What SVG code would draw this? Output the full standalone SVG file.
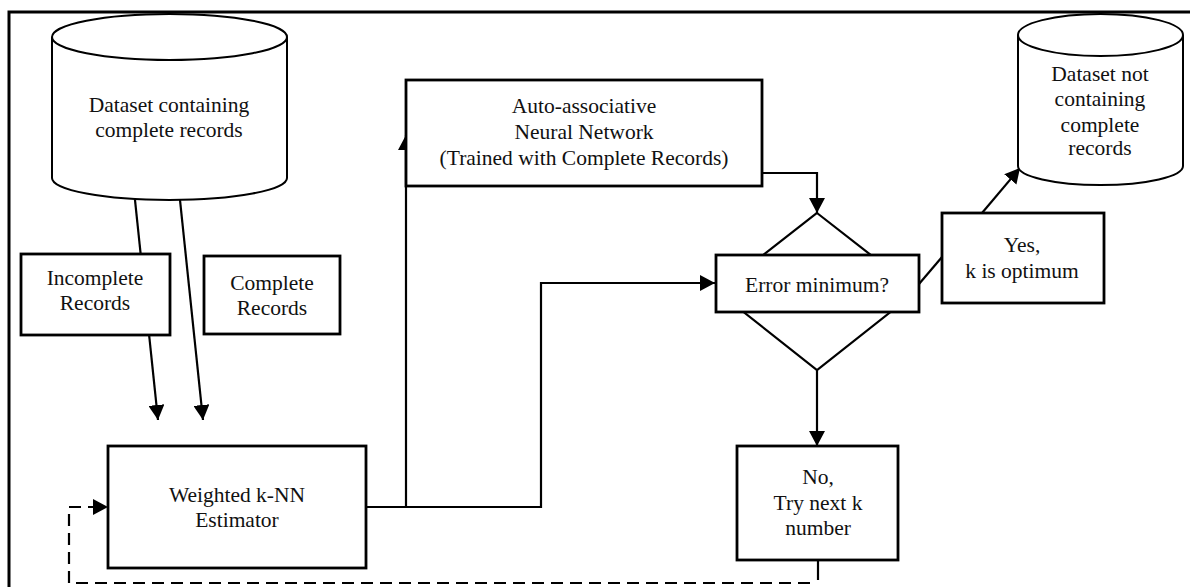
<svg xmlns="http://www.w3.org/2000/svg" width="1190" height="587" viewBox="0 0 1190 587">
<defs>
<style>
.box{fill:#fff;stroke:#000;stroke-width:2.8}
.cyl{fill:#fff;stroke:#000;stroke-width:2}
.ln{fill:none;stroke:#000;stroke-width:2.2}
.dash{fill:none;stroke:#000;stroke-width:2.2;stroke-dasharray:12 7}
text{font-family:"Liberation Serif","Times New Roman",serif;font-size:21.5px;fill:#111;text-anchor:middle}
</style>
<marker id="arr" markerWidth="16" markerHeight="16" refX="15" refY="8" orient="auto" markerUnits="userSpaceOnUse">
<path d="M0,0 L15,8 L0,16 Z" fill="#000"/>
</marker>
</defs>
<rect width="1190" height="587" fill="#fff"/>
<path d="M9,587 V12 H1190" fill="none" stroke="#000" stroke-width="3"/>

<g id="connectors">
<line class="ln" x1="135" y1="200" x2="158" y2="420" marker-end="url(#arr)"/>
<line class="ln" x1="180" y1="200" x2="203" y2="420" marker-end="url(#arr)"/>
<path class="ln" d="M366,507 H406 V135" marker-end="url(#arr)"/>
<path class="ln" d="M406,507 H541 V283 H715" marker-end="url(#arr)"/>
<path class="ln" d="M762,173 H817 V213" marker-end="url(#arr)"/>
<line class="ln" x1="817" y1="370" x2="817" y2="446" marker-end="url(#arr)"/>
<line class="ln" x1="919" y1="284" x2="942" y2="257"/>
<line class="ln" x1="982" y1="213" x2="1020" y2="168" marker-end="url(#arr)"/>
<line class="ln" x1="818" y1="560" x2="818" y2="580"/>
<path class="dash" d="M810,583 H69 V507 H108" marker-end="url(#arr)"/>
</g>

<g id="dataset-complete">
<path class="cyl" d="M52,37 V178 A117.5,22 0 0 0 287,178 V37"/>
<ellipse class="cyl" cx="169.5" cy="37" rx="117.5" ry="23"/>
<text x="169" y="112">Dataset containing</text>
<text x="169" y="137">complete records</text>
</g>

<g id="incomplete-records">
<rect class="box" x="21" y="254" width="149" height="81"/>
<text x="95" y="285">Incomplete</text>
<text x="95" y="310">Records</text>
</g>

<g id="complete-records">
<rect class="box" x="204" y="256" width="136" height="78"/>
<text x="272" y="290">Complete</text>
<text x="272" y="315">Records</text>
</g>

<g id="knn">
<rect class="box" x="108" y="446" width="258" height="122"/>
<text x="237" y="502">Weighted k-NN</text>
<text x="237" y="527">Estimator</text>
</g>

<g id="aann">
<rect class="box" x="406" y="80" width="356" height="106"/>
<text x="584" y="113">Auto-associative</text>
<text x="584" y="139">Neural Network</text>
<text x="584" y="165">(Trained with Complete Records)</text>
</g>

<g id="decision">
<path class="ln" d="M817,213 L917,291 L817,370 L717,291 Z" fill="#fff"/>
<rect class="box" x="716" y="255" width="203" height="57"/>
<text x="817" y="292">Error minimum?</text>
</g>

<g id="yes">
<rect class="box" x="942" y="213" width="162" height="90"/>
<text x="1022" y="252">Yes,</text>
<text x="1022" y="278">k is optimum</text>
</g>

<g id="no">
<rect class="box" x="737" y="446" width="161" height="114"/>
<text x="818" y="484">No,</text>
<text x="818" y="510">Try next k</text>
<text x="818" y="535">number</text>
</g>

<g id="dataset-output">
<path class="cyl" d="M1018,35 V166 A82.5,19 0 0 0 1183,166 V35"/>
<ellipse class="cyl" cx="1100.5" cy="35" rx="82.5" ry="21"/>
<text x="1100" y="81">Dataset not</text>
<text x="1100" y="106">containing</text>
<text x="1100" y="132">complete</text>
<text x="1100" y="155">records</text>
</g>
</svg>
